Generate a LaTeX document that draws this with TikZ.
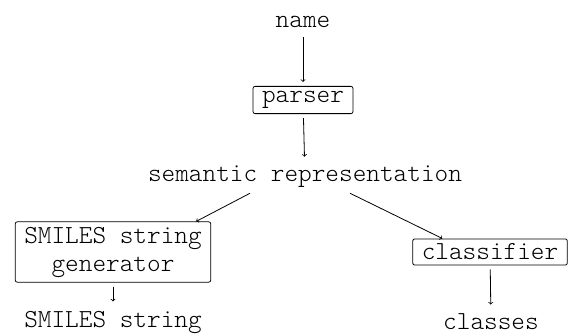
\documentclass[tikz,border=0pt]{standalone}
\usepackage{fontspec}
\setmonofont{Latin Modern Mono Light}
\tikzset{>=to}
\tikzset{
  stage/.style={draw, rounded corners=2pt, inner xsep=9pt, inner ysep=5pt, align=center},
  item/.style={inner sep=5pt, align=center},
  flow/.style={->, shorten <=4pt, shorten >=4pt}
}

\begin{document}
\begin{tikzpicture}[x=1pt, y=-1pt, line width=0.8pt, font=\ttfamily\fontsize{26}{28}\selectfont]
\useasboundingbox (0,0) rectangle (569,336);
\node[item] (name) at (303,22) {name};
\node[stage] (parser) at (303,100) {parser};
\node[item] (sem) at (305,177) {semantic representation};
\node[stage] (gen) at (113,252) {SMILES string\\generator};
\node[stage] (cls) at (490,252) {classifier};
\node[item] (smiles) at (113,322) {SMILES string};
\node[item] (classes) at (491,322) {classes};
\draw[flow] (name) -- (parser);
\draw[flow] (parser) -- (sem);
\draw[->] ([xshift=-55pt]sem.south) -- ([xshift=-15pt]gen.north east);
\draw[->] ([xshift=45pt]sem.south) -- ([xshift=30pt]cls.north west);
\draw[flow] (gen) -- (smiles);
\draw[flow] (cls) -- (classes);
\end{tikzpicture}
\end{document}
